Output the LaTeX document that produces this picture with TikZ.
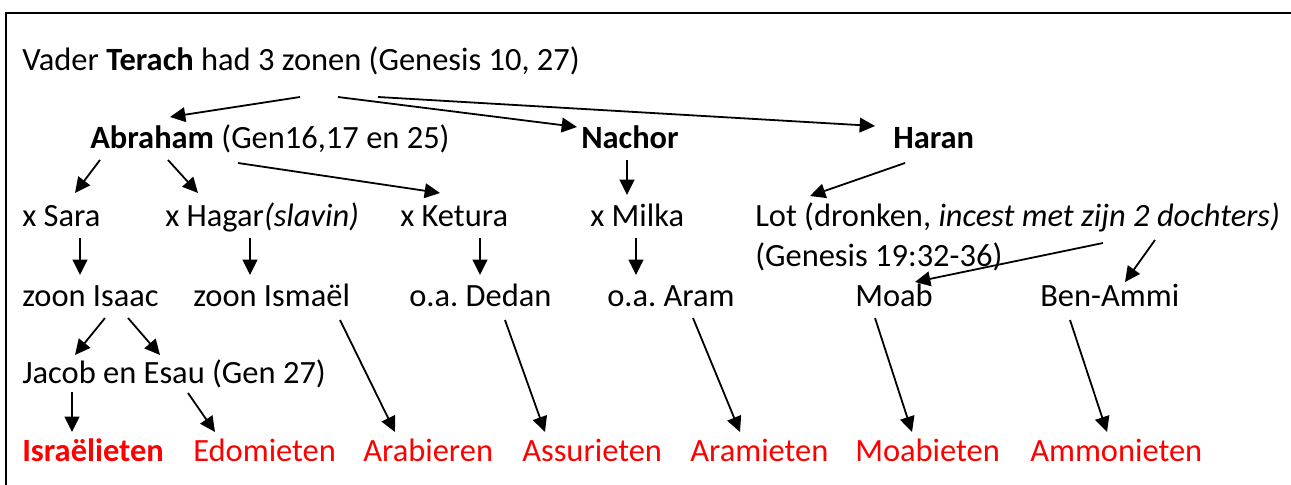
\documentclass[tikz,border=0pt]{standalone}
\usepackage{fontspec}
\setmainfont{Carlito}
\usetikzlibrary{arrows.meta,calc}
\definecolor{myred}{RGB}{255,0,0}
\frenchspacing
\tikzset{
  lbl/.style={anchor=base west,inner sep=0pt,font=\fontsize{24.35}{30}\selectfont},
  red/.style={lbl,text=myred},
  arr/.style={line width=1.35pt,-{Triangle[length=11.5pt,width=11pt]}}
}
\begin{document}
\begin{tikzpicture}[x=0.75pt,y=-0.75pt]
\useasboundingbox (0,0) rectangle (1291,485);
\draw[line width=1.5pt] (1291,13) -- (6,13) -- (6,485);
% nodes
\node[lbl] (t) at (22,70) {Vader \textbf{Terach} had 3 zonen (Genesis 10, 27)};
\node[lbl] (ab) at (90,148) {\textbf{Abraham} (Gen16,17 en 25)};
\node[lbl] (na) at (581,148) {\textbf{Nachor}};
\node[lbl] (ha) at (893,148) {\textbf{Haran}};
\node[lbl] (sa) at (22,226) {x Sara};
\node[lbl] (hg) at (165,226) {x Hagar\textit{(slavin)}};
\node[lbl] (ke) at (400,226) {x Ketura};
\node[lbl] (mi) at (590,226) {x Milka};
\node[lbl] (lot) at (755,226) {Lot (dronken, \textit{incest met zijn 2 dochters)}};
\node[lbl] (gen) at (755,266) {(Genesis 19:32-36)};
\node[lbl] (is) at (22,306) {zoon Isaac};
\node[lbl] (im) at (193,306) {zoon Ismaël};
\node[lbl] (de) at (409,306) {o.a. Dedan};
\node[lbl] (ar) at (607,306) {o.a. Aram};
\node[lbl] (mo) at (855,306) {Moab};
\node[lbl] (ba) at (1040,306) {Ben-Ammi};
\node[lbl] (je) at (22,383) {Jacob en Esau (Gen 27)};
\node[red] (isr) at (22,461) {\textbf{Israëlieten}};
\node[red] (edo) at (193,461) {Edomieten};
\node[red] (arab) at (363,461) {Arabieren};
\node[red] (assu) at (522,461) {Assurieten};
\node[red] (arami) at (690,461) {Aramieten};
\node[red] (moabi) at (855,461) {Moabieten};
\node[red] (ammo) at (1030,461) {Ammonieten};
% arrows
\draw[arr] ($(t.base west)+(278,27)$) -- ($(ab.base west)+(80,-31)$);
\draw[arr] ($(t.base west)+(316,27)$) -- ($(na.base west)+(-4,-21)$);
\draw[arr] ($(t.base west)+(356,27)$) -- ($(ha.base west)+(-18,-22)$);
\draw[arr] ($(ab.base west)+(10,12)$) -- ($(sa.base west)+(53,-33)$);
\draw[arr] ($(ab.base west)+(78,12)$) -- ($(hg.base west)+(33,-33)$);
\draw[arr] ($(ab.base west)+(148,15)$) -- ($(ke.base west)+(40,-33)$);
\draw[arr] ($(na.base west)+(46,12)$) -- ($(mi.base west)+(37,-31)$);
\draw[arr] ($(ha.base west)+(12,15)$) -- ($(lot.base west)+(55,-30)$);
\draw[arr] ($(sa.base west)+(58,12)$) -- ($(is.base west)+(58,-31)$);
\draw[arr] ($(hg.base west)+(85,12)$) -- ($(im.base west)+(57,-31)$);
\draw[arr] ($(ke.base west)+(80,12)$) -- ($(de.base west)+(71,-31)$);
\draw[arr] ($(mi.base west)+(46,12)$) -- ($(ar.base west)+(29,-31)$);
\draw[arr] ($(lot.base west)+(348,17)$) -- ($(mo.base west)+(60,-24)$);
\draw[arr] ($(lot.base west)+(400,14)$) -- ($(ba.base west)+(85,-24)$);
\draw[arr] ($(is.base west)+(83,12)$) -- ($(je.base west)+(53,-28)$);
\draw[arr] ($(is.base west)+(106,12)$) -- ($(je.base west)+(138,-28)$);
\draw[arr] ($(im.base west)+(147,14)$) -- ($(arab.base west)+(32,-29)$);
\draw[arr] ($(de.base west)+(96,14)$) -- ($(assu.base west)+(23,-29)$);
\draw[arr] ($(ar.base west)+(86,12)$) -- ($(arami.base west)+(50,-29)$);
\draw[arr] ($(mo.base west)+(20,12)$) -- ($(moabi.base west)+(57,-29)$);
\draw[arr] ($(ba.base west)+(30,14)$) -- ($(ammo.base west)+(77,-29)$);
\draw[arr] ($(je.base west)+(50,9)$) -- ($(isr.base west)+(50,-29)$);
\draw[arr] ($(je.base west)+(166,10)$) -- ($(edo.base west)+(22,-29)$);
\end{tikzpicture}
\end{document}
